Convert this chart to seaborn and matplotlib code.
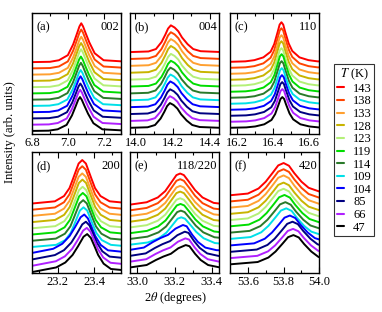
import numpy as np
import pandas as pd
import matplotlib
matplotlib.use('Agg')
import matplotlib.pyplot as plt
import seaborn as sns
from matplotlib.lines import Line2D
from matplotlib.ticker import MultipleLocator

# temperatures (K) and line colours, top curve first
temps = [143, 138, 133, 128, 123, 119, 114, 109, 104, 85, 66, 47]
colors = ['#ff0000', '#ff4400', '#ffa030', '#c8b400', '#b4f078', '#00dd00',
          '#2a7a2a', '#00e0e8', '#0000ff', '#000080', '#b020ff', '#000000']

# peak shapes: offset from peak centre, relative height
a_dx = [-0.30, -0.175, -0.125, -0.075, -0.045, -0.025, -0.01, 0, 0.01, 0.025, 0.045, 0.075, 0.125, 0.30]
a_y = [0, 0.01, 0.05, 0.18, 0.46, 0.72, 0.92, 1, 0.92, 0.74, 0.51, 0.23, 0.05, 0]
a_centre = [7.075, 7.075, 7.075, 7.074, 7.074, 7.073, 7.073, 7.072, 7.071, 7.070, 7.069, 7.068]
a_height = [39, 39, 38, 38, 38, 37, 37, 36, 36, 35, 35, 34]

b_dx = [-0.25, -0.12, -0.08, -0.05, -0.03, -0.015, 0, 0.02, 0.04, 0.06, 0.09, 0.12, 0.16, 0.30]
b_y = [0, 0.03, 0.12, 0.38, 0.65, 0.88, 1, 0.92, 0.78, 0.55, 0.30, 0.12, 0.04, 0]
b_centre = [14.19, 14.19, 14.19, 14.19, 14.19, 14.19, 14.188, 14.188, 14.187, 14.186, 14.185, 14.185]
b_height = [27, 27, 27, 27, 26, 26, 26, 26, 26, 25, 25, 25]

c_dx = [-0.35, -0.20, -0.15, -0.10, -0.06, -0.04, -0.02, -0.01, 0, 0.01, 0.02, 0.04, 0.06, 0.10, 0.15, 0.20, 0.35]
c_y = [0, 0.02, 0.05, 0.12, 0.26, 0.45, 0.77, 0.94, 1, 0.94, 0.77, 0.47, 0.28, 0.12, 0.05, 0.02, 0]
c_centre = [16.445, 16.445, 16.445, 16.445, 16.445, 16.446, 16.446, 16.447, 16.448, 16.449, 16.45, 16.45]
c_height = [40, 40, 39, 39, 38, 38, 37, 36, 35, 34, 33, 31]

d_dx = [-0.30, -0.15, -0.10, -0.07, -0.05, -0.02, 0, 0.02, 0.05, 0.07, 0.10, 0.15, 0.30]
d_y = [0, 0.06, 0.18, 0.36, 0.58, 0.92, 1, 0.92, 0.58, 0.36, 0.18, 0.06, 0]
d_lo_dx = [-0.30, -0.17, -0.12, -0.08, -0.05, -0.02, 0, 0.02, 0.04, 0.06, 0.09, 0.13, 0.30]
d_lo_y = [0, 0.12, 0.25, 0.45, 0.68, 0.93, 1, 0.90, 0.68, 0.45, 0.22, 0.08, 0]
d_centre = [23.335, 23.335, 23.335, 23.336, 23.337, 23.338, 23.34, 23.342, 23.346, 23.355, 23.36, 23.362]
d_height = [44, 44, 43, 43, 42, 42, 41, 40, 39, 38, 38, 38]

e_dx = [-0.30, -0.18, -0.12, -0.08, -0.05, -0.02, 0, 0.02, 0.05, 0.08, 0.12, 0.18, 0.30]
e_y = [0, 0.10, 0.25, 0.45, 0.70, 0.95, 1, 0.95, 0.72, 0.48, 0.25, 0.08, 0]
e_lo_dx = [-0.32, -0.21, -0.16, -0.12, -0.08, -0.04, 0, 0.02, 0.05, 0.08, 0.12, 0.18, 0.30]
e_lo_y = [0, 0.13, 0.35, 0.50, 0.62, 0.86, 1, 0.95, 0.62, 0.35, 0.13, 0.03, 0]
e_centre = [33.23, 33.23, 33.23, 33.23, 33.23, 33.232, 33.234, 33.236, 33.245, 33.255, 33.258, 33.26]
e_height = [32, 32, 31, 31, 30, 30, 29, 28, 26, 25, 24, 23]

f_dx = [-0.40, -0.20, -0.14, -0.10, -0.06, -0.03, 0, 0.03, 0.06, 0.10, 0.14, 0.20, 0.40]
f_y = [0, 0.10, 0.25, 0.45, 0.72, 0.93, 1, 0.92, 0.70, 0.45, 0.27, 0.16, 0.12]
f_centre = [53.80, 53.80, 53.80, 53.80, 53.80, 53.805, 53.81, 53.815, 53.835, 53.85, 53.853, 53.855]
f_height = [34, 34, 34, 33, 33, 33, 32, 32, 31, 31, 30, 30]

# which temperatures follow the low-temperature shape
lo_temps = [104, 85, 66, 47]

panels = [
    ('(a)', '002', (6.8, 7.3), [6.8, 7.0, 7.2], (a_dx, a_y), (a_dx, a_y), a_centre, a_height),
    ('(b)', '004', (13.97, 14.45), [14.0, 14.2, 14.4], (b_dx, b_y), (b_dx, b_y), b_centre, b_height),
    ('(c)', '110', (16.16, 16.655), [16.2, 16.4, 16.6], (c_dx, c_y), (c_dx, c_y), c_centre, c_height),
    ('(d)', '200', (23.06, 23.55), [23.2, 23.4], (d_dx, d_y), (d_lo_dx, d_lo_y), d_centre, d_height),
    ('(e)', '118/220', (32.96, 33.44), [33.0, 33.2, 33.4], (e_dx, e_y), (e_lo_dx, e_lo_y), e_centre, e_height),
    ('(f)', '420', (53.5, 54.0), [53.6, 53.8, 54.0], (f_dx, f_y), (f_dx, f_y), f_centre, f_height),
]
# waterfall offset of the lowest curve and spacing between curves (pixels)
offsets = [(3, 6.27), (6, 6.9), (6, 6.0), (1, 6.2), (5, 5.7), (8, 6.2)]

sns.set_style('ticks')
plt.rcParams['font.family'] = ['Liberation Serif', 'DejaVu Serif']
plt.rcParams['mathtext.fontset'] = 'stix'
plt.rcParams['axes.edgecolor'] = 'black'
plt.rcParams['text.color'] = 'black'
plt.rcParams['xtick.color'] = 'black'
plt.rcParams['xtick.labelcolor'] = 'black'

fig = plt.figure(figsize=(3.82, 3.12), dpi=100)
lefts = [0.084, 0.340, 0.602]
bottoms = [0.5705, 0.125]
pal = dict(zip(temps, colors))

for k, (lab, hkl, xlim, ticks, hi, lo, cen, hgt) in enumerate(panels):
    ax = fig.add_axes([lefts[k % 3], bottoms[k // 3], 0.234, 0.387])
    base, step = offsets[k]
    rows = []
    for i, t in enumerate(temps):
        off = base + step * (len(temps) - 1 - i)
        dx, dy = lo if t in lo_temps else hi
        for u, v in zip(dx, dy):
            rows.append((cen[i] + u, off + hgt[i] * v, t))
    df = pd.DataFrame(rows, columns=['x', 'y', 'T'])
    sns.lineplot(data=df, x='x', y='y', hue='T', hue_order=temps, palette=pal,
                 estimator=None, sort=False, legend=False, lw=1.4, ax=ax)
    ax.set_xlim(xlim)
    ax.set_ylim(0, 121)
    ax.set_xticks(ticks)
    ax.set_xticklabels(['%.1f' % t for t in ticks])
    ax.xaxis.set_minor_locator(MultipleLocator(0.1))
    ax.set_yticks([])
    ax.set_xlabel('')
    ax.set_ylabel('')
    ax.tick_params(axis='x', which='both', direction='in', top=True, labelsize=9, pad=2)
    ax.tick_params(axis='x', which='major', length=4, width=0.8)
    ax.tick_params(axis='x', which='minor', length=2, width=0.8)
    for s in ax.spines.values():
        s.set_linewidth(1.0)
        s.set_color('black')
    ax.text(0.05, 0.885, lab, transform=ax.transAxes, fontsize=9, va='center', ha='left')
    ax.text(0.98, 0.885, hkl, transform=ax.transAxes, fontsize=9, va='center', ha='right')

fig.text(0.026, 0.577, 'Intensity (arb. units)', rotation=90, fontsize=9, ha='center', va='center')
fig.text(0.459, 0.045, r'2$\theta$ (degrees)', fontsize=9, ha='center', va='center')

handles = [Line2D([], [], color=c, lw=1.5) for c in colors]
leg = fig.legend(handles, [str(t) for t in temps], title=r'$T$ (K)',
                 loc='upper left', bbox_to_anchor=(328 / 382, 1 - 58 / 312),
                 fontsize=9, title_fontsize=9, frameon=True, fancybox=False,
                 edgecolor='black', handlelength=0.6, handletextpad=0.7,
                 labelspacing=0.05, borderpad=0.2)
leg.get_frame().set_linewidth(0.8)

fig.savefig('out.png', dpi=100)
